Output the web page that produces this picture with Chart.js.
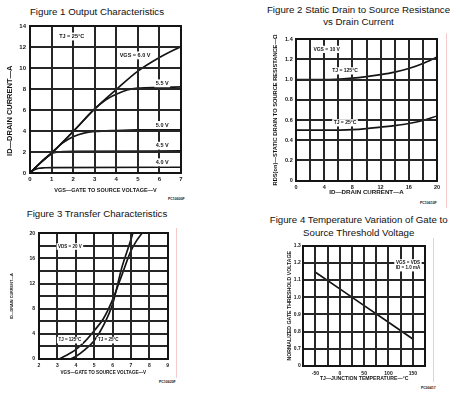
<!DOCTYPE html>
<html>
<head>
<meta charset="utf-8">
<script src="https://cdn.jsdelivr.net/npm/chart.js@4.4.0/dist/chart.umd.min.js"></script>
<style>
  html, body { margin: 0; padding: 0; background: #fff; }
  body { width: 461px; height: 393px; position: relative; overflow: hidden; font-family: "Liberation Sans", Arial, sans-serif; color: #111; }
  canvas { position: absolute; }
  .ttl { position: absolute; text-align: center; font-size: 9.7px; white-space: nowrap; }
  .code { position: absolute; font-size: 3.5px; font-weight: bold; white-space: nowrap; }
  .edge { position: absolute; width: 1px; background: #f4caca; }
</style>
</head>
<body>
<div class="ttl" style="left:17px;top:5.7px;width:160px;line-height:12px">Figure 1 Output Characteristics</div>
<div class="ttl" style="left:258.5px;top:4px;width:200px;line-height:12px">Figure 2 Static Drain to Source Resistance<br>vs Drain Current</div>
<div class="ttl" style="left:17px;top:208px;width:160px;line-height:12px">Figure 3 Transfer Characteristics</div>
<div class="ttl" style="left:258.7px;top:214.4px;width:200px;line-height:12.6px">Figure 4 Temperature Variation of Gate to<br>Source Threshold Voltage</div>

<div class="code" style="left:168px;top:197px">PC10600F</div>
<div class="code" style="left:420px;top:201px">PC10610F</div>
<div class="code" style="left:159px;top:380px">PC10620F</div>
<div class="code" style="left:421px;top:386px">PC00417</div>

<div class="edge" style="left:446px;top:33px;height:175px"></div>
<div class="edge" style="left:176px;top:228px;height:150px"></div>
<div class="edge" style="left:433px;top:238px;height:144px"></div>

<canvas id="fig1"></canvas>
<canvas id="fig2"></canvas>
<canvas id="fig3"></canvas>
<canvas id="fig4"></canvas>

<script>
// FIG 1 - output characteristics (VDS in V, ID in A)
const vds60 = [0, 0.5, 1, 2, 3, 4, 5, 6, 7];
const id60  = [0, 1.0, 1.9, 3.95, 6.1, 7.95, 9.7, 11.0, 12.05];
const vds55 = [0, 0.5, 1, 2, 3, 3.5, 4, 4.5, 5, 6, 7];
const id55  = [0, 1.0, 1.9, 3.95, 6.1, 6.95, 7.5, 7.9, 8.08, 8.15, 8.2];
const vds50 = [0, 0.5, 1, 1.5, 2, 2.5, 3, 4, 5, 7];
const id50  = [0, 1.0, 1.9, 2.85, 3.45, 3.8, 3.95, 4.05, 4.1, 4.1];
const vds45 = [0, 0.5, 0.8, 1, 1.3, 1.6, 2, 7];
const id45  = [0, 1.0, 1.55, 1.85, 2.0, 2.05, 2.07, 2.1];
const vds40 = [0, 0.2, 0.4, 0.7, 1, 7];
const id40  = [0, 0.3, 0.45, 0.5, 0.52, 0.55];

// FIG 2 - RDS(on) vs ID
const idHot  = [0, 4, 8, 10, 12, 14, 16, 18, 20];
const rdsHot = [1.0, 1.0, 1.015, 1.03, 1.05, 1.075, 1.11, 1.16, 1.225];
const idRoom  = [0, 4, 8, 10, 12, 14, 16, 18, 20];
const rdsRoom = [0.5, 0.5, 0.505, 0.515, 0.53, 0.545, 0.565, 0.595, 0.64];

// FIG 3 - transfer characteristics
const vgsHot = [3.1, 3.5, 4, 4.5, 5, 5.5, 6, 6.5, 7, 7.3, 7.6];
const idTHot = [0, 0.6, 1.5, 2.8, 4.5, 6.4, 9.4, 13.3, 17.2, 18.8, 20];
const vgsRoom = [3.7, 4, 4.5, 5, 5.5, 6, 6.5, 7, 7.1];
const idTRoom = [0, 0.4, 1.5, 2.9, 5.3, 8.7, 14.5, 19.0, 20];

// FIG 4 - normalized gate threshold voltage vs TJ
const tjC = [-50, 0, 50, 100, 150];
const vthNorm = [1.145, 1.048, 0.951, 0.854, 0.757];

Chart.defaults.font.family = '"Liberation Sans", Arial, sans-serif';
Chart.defaults.color = '#111';

const INK = '#141414';
const GRID = '#262626';

// grid (crisp 2px bars at the scale ticks), heavy box, then curve labels on white patches
function overlay(items, size) {
  return {
    id: 'overlay',
    afterDraw(chart) {
      const { ctx, chartArea: a } = chart;
      const x = chart.scales.x, y = chart.scales.y;
      const top = Math.round(a.top), bot = Math.round(a.bottom);
      const lft = Math.round(a.left), rgt = Math.round(a.right);
      ctx.save();
      ctx.fillStyle = GRID;
      x.ticks.forEach(t => {
        const px = Math.round(x.getPixelForValue(t.value));
        ctx.fillRect(px - 1, top, 2, bot - top);
      });
      y.ticks.forEach(t => {
        const py = Math.round(y.getPixelForValue(t.value));
        ctx.fillRect(lft, py - 1, rgt - lft, 2);
      });
      ctx.strokeStyle = INK;
      ctx.lineWidth = 2;
      ctx.strokeRect(lft, top, rgt - lft, bot - top);

      ctx.font = `bold ${size}px "Liberation Sans", Arial, sans-serif`;
      const lh = size * 1.25;
      items.forEach(n => {
        const lines = [].concat(n.text);
        const w = Math.max(...lines.map(s => ctx.measureText(s).width)) + 3;
        const h = lh * lines.length + 1;
        const px = x.getPixelForValue(n.x), py = y.getPixelForValue(n.y);
        ctx.fillStyle = '#fff';
        ctx.fillRect(px - w / 2, py - h / 2, w, h);
        ctx.fillStyle = INK;
        ctx.textAlign = 'center';
        ctx.textBaseline = 'middle';
        lines.forEach((s, i) => ctx.fillText(s, px, py - h / 2 + 0.5 + lh * (i + 0.5)));
      });
      ctx.restore();
    }
  };
}

function pts(xs, ys) { return xs.map((v, i) => ({ x: v, y: ys[i] })); }

function makeChart(id, box, area, c) {
  const cv = document.getElementById(id);
  cv.width = box.w; cv.height = box.h;
  cv.style.left = box.x + 'px'; cv.style.top = box.y + 'px';
  const yLh = c.yTitleSize * 1.2, xLh = c.xTitleSize * 1.2;
  const yW = area.l - box.x;
  const xH = box.y + box.h - area.b;
  return new Chart(cv, {
    type: 'scatter',
    data: {
      datasets: c.series.map(s => ({
        data: pts(s[0], s[1]), showLine: true, borderColor: INK, borderWidth: 1.7,
        pointRadius: 0, cubicInterpolationMode: c.straight ? 'default' : 'monotone', tension: 0, fill: false
      }))
    },
    options: {
      responsive: false, animation: false,
      layout: { padding: { left: 0, top: area.t - box.y, right: box.x + box.w - area.r, bottom: 0 } },
      plugins: { legend: { display: false }, tooltip: { enabled: false } },
      scales: {
        x: {
          type: 'linear', min: c.xMin, max: c.xMax,
          afterFit: s => { s.height = xH; },
          border: { display: false },
          grid: { display: false, drawTicks: false },
          ticks: { stepSize: c.xStep, autoSkip: false, maxRotation: 0, padding: c.xPad + 2, color: INK,
                   font: { size: c.tickSize, weight: 'bold' }, callback: c.xLabel },
          title: { display: true, text: c.xTitle, color: INK, font: { size: c.xTitleSize, weight: 'bold' },
                   padding: { top: 0, bottom: box.y + box.h - c.xTitleY - xLh / 2 } }
        },
        y: {
          type: 'linear', min: c.yMin, max: c.yMax,
          afterFit: s => { s.width = yW; },
          border: { display: false },
          grid: { display: false, drawTicks: false },
          ticks: { stepSize: c.yStep, autoSkip: false, padding: c.yPad + 2, color: INK,
                   font: { size: c.tickSize, weight: 'bold' }, callback: c.yLabel },
          title: { display: true, text: c.yTitle, color: INK, font: { size: c.yTitleSize, weight: 'bold' },
                   padding: { top: c.yTitleX - box.x - yLh / 2, bottom: 0 } }
        }
      }
    },
    plugins: [overlay(c.notes, c.noteSize)]
  });
}

const near = (a, b) => Math.abs(a - b) < 1e-6;

makeChart('fig1', { x: 0, y: 18, w: 230, h: 182 }, { l: 30, t: 26, r: 181, b: 173 }, {
  series: [[vds60, id60], [vds55, id55], [vds50, id50], [vds45, id45], [vds40, id40]],
  xMin: 0, xMax: 7, xStep: 1, yMin: 0, yMax: 14, yStep: 2,
  xLabel: v => String(v), yLabel: v => String(v),
  tickSize: 6, xPad: 0.4, yPad: 2,
  xTitle: 'VGS—GATE TO SOURCE VOLTAGE—V', xTitleSize: 5.5, xTitleY: 190,
  yTitle: 'ID—DRAIN CURRENT—A\u2003\u2003\u2003', yTitleSize: 7.5, yTitleX: 10,
  noteSize: 5.5,
  notes: [
    { x: 1.93, y: 13.0, text: 'TJ = 25°C' },
    { x: 4.87, y: 11.2, text: 'VGS = 6.0 V' },
    { x: 6.13, y: 8.54, text: '5.5 V' },
    { x: 6.13, y: 4.57, text: '5.0 V' },
    { x: 6.13, y: 2.6, text: '4.5 V' },
    { x: 6.13, y: 1.02, text: '4.0 V' }
  ]
});

makeChart('fig2', { x: 230, y: 30, w: 231, h: 170 }, { l: 296, t: 39.3, r: 437, b: 180.5 }, {
  series: [[idHot, rdsHot], [idRoom, rdsRoom]],
  xMin: 0, xMax: 20, xStep: 2, yMin: 0, yMax: 1.4, yStep: 0.2,
  xLabel: v => (v % 4 === 0 ? String(v) : ''),
  yLabel: v => (near(v, 0) ? '0' : v.toFixed(1)),
  tickSize: 5.5, xPad: 1.7, yPad: 1.3,
  xTitle: 'ID—DRAIN CURRENT—A', xTitleSize: 6.2, xTitleY: 192.7,
  yTitle: 'RDS(on)—STATIC DRAIN TO SOURCE RESISTANCE—Ω', yTitleSize: 5.7, yTitleX: 275,
  noteSize: 5,
  notes: [
    { x: 4.35, y: 1.3, text: 'VGS = 10 V' },
    { x: 6.95, y: 1.087, text: 'TJ = 125°C' },
    { x: 6.95, y: 0.572, text: 'TJ = 25°C' }
  ]
});

makeChart('fig3', { x: 0, y: 222, w: 230, h: 171 }, { l: 39, t: 233.3, r: 167.7, b: 359 }, {
  series: [[vgsHot, idTHot], [vgsRoom, idTRoom]],
  xMin: 2, xMax: 9, xStep: 1, yMin: 0, yMax: 20, yStep: 2,
  xLabel: v => String(v),
  yLabel: v => (v % 4 === 0 ? String(v) : ''),
  tickSize: 5, xPad: 2, yPad: 2,
  xTitle: 'VGS—GATE TO SOURCE VOLTAGE—V', xTitleSize: 4.6, xTitleY: 373,
  yTitle: 'ID—DRAIN CURRENT—A', yTitleSize: 3.8, yTitleX: 11.7,
  noteSize: 4.5,
  notes: [
    { x: 3.68, y: 17.9, text: 'VDS = 20 V' },
    { x: 3.68, y: 3.0, text: 'TJ = 125°C' },
    { x: 5.77, y: 3.0, text: 'TJ = 25°C' }
  ]
});

makeChart('fig4', { x: 230, y: 240, w: 231, h: 153 }, { l: 303.3, t: 243.5, r: 425, b: 366 }, {
  series: [[tjC, vthNorm]], straight: true,
  xMin: -75, xMax: 175, xStep: 25, yMin: 0.6, yMax: 1.3, yStep: 0.1,
  xLabel: v => (v % 50 === 0 ? String(v) : ''),
  yLabel: v => (near(v, 0.6) ? '0' : v.toFixed(1)),
  tickSize: 5, xPad: 2.7, yPad: 0.5,
  xTitle: 'TJ—JUNCTION TEMPERATURE—°C', xTitleSize: 5.15, xTitleY: 379,
  yTitle: 'NORMALIZED GATE THRESHOLD VOLTAGE', yTitleSize: 5.2, yTitleX: 289.3,
  noteSize: 4.5,
  notes: [
    { x: 140, y: 1.185, text: ['VGS = VDS', 'ID = 1.0 mA'] }
  ]
});
</script>
</body>
</html>
